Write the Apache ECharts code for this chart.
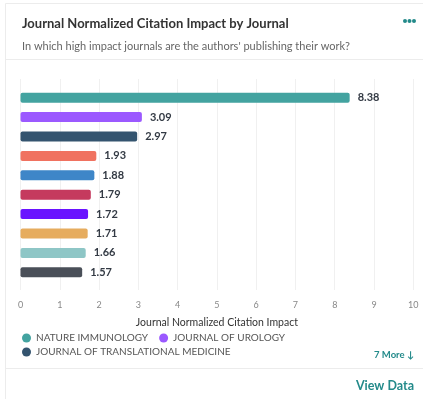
<!DOCTYPE html>
<html>
<head>
<meta charset="utf-8">
<script src="https://cdn.jsdelivr.net/npm/echarts@6/dist/echarts.min.js"></script>
<style>
  html, body { margin: 0; padding: 0; background: #fff; }
  #chart { width: 423px; height: 399px; }
</style>
</head>
<body>
<div id="chart"></div>
<script>
// Journals ranked by Journal Normalized Citation Impact (top 10)
const ranks = ['1', '2', '3', '4', '5', '6', '7', '8', '9', '10'];
const namedJournals = ['NATURE IMMUNOLOGY', 'JOURNAL OF UROLOGY', 'JOURNAL OF TRANSLATIONAL MEDICINE'];
const namedValues = [8.38, 3.09, 2.97];
const namedColors = ['#43a3a0', '#9b59ff', '#34546f'];
// Remaining seven journals (collapsed under "7 More")
const otherValues = [1.93, 1.88, 1.79, 1.72, 1.71, 1.66, 1.57];
const otherColors = ['#f07260', '#3e86c8', '#c53a5e', '#6a14ff', '#e6ac5e', '#8ec6c6', '#4a4f58'];
const xTicks = { min: 0, max: 10, interval: 1 };

const FONT = 'Lato, "Open Sans", sans-serif';
const TEAL = '#238a8a';
const chart = echarts.init(document.getElementById('chart'), null, { renderer: 'canvas' });

const labelStyle = {
  show: true,
  position: 'right',
  distance: 8,
  color: '#333a44',
  fontFamily: FONT,
  fontSize: 11,
  fontWeight: 'bold'
};

const barCommon = {
  type: 'bar',
  xAxisIndex: 1,
  yAxisIndex: 1,
  barWidth: 10,
  barGap: '-100%',
  label: labelStyle,
  itemStyle: { borderRadius: 2 }
};

const series = namedJournals.map((name, i) => Object.assign({}, barCommon, {
  name: name,
  color: namedColors[i],
  data: [[namedValues[i], i]]
}));
series.push(Object.assign({}, barCommon, {
  name: 'other',
  data: otherValues.map((v, i) => ({
    value: [v, i + namedValues.length],
    itemStyle: { color: otherColors[i] }
  }))
}));

const legendCommon = {
  left: 22,
  padding: 0,
  icon: 'circle',
  itemWidth: 9, itemHeight: 9,
  itemGap: 11,
  textStyle: { fontFamily: FONT, fontSize: 10, color: '#555' },
  selectedMode: false
};

chart.setOption({
  animation: false,
  backgroundColor: '#fff',
  textStyle: { fontFamily: FONT },
  title: [
    {
      text: 'Journal Normalized Citation Impact by Journal',
      left: 17, top: 12,
      textStyle: { fontFamily: FONT, fontSize: 13, fontWeight: 'bold', color: '#333' }
    },
    {
      text: "In which high impact journals are the authors' publishing their work?",
      left: 17, top: 36,
      textStyle: { fontFamily: FONT, fontSize: 11, fontWeight: 'normal', color: '#666' }
    }
  ],
  legend: [
    Object.assign({}, legendCommon, { data: namedJournals.slice(0, 2), top: 333 }),
    Object.assign({}, legendCommon, { data: namedJournals.slice(2), top: 347 })
  ],
  grid: [
    { left: 20.5, right: 9.7, top: 79, bottom: 109 },
    { left: 20.5, right: 9.7, top: 88, bottom: 117 }
  ],
  xAxis: [
    {
      type: 'value', gridIndex: 0,
      min: xTicks.min, max: xTicks.max, interval: xTicks.interval,
      name: 'Journal Normalized Citation Impact',
      nameLocation: 'middle', nameGap: 27,
      nameTextStyle: { fontFamily: FONT, fontSize: 10.5, color: '#333' },
      axisLine: { show: false }, axisTick: { show: false },
      axisLabel: { margin: 11, fontFamily: FONT, fontSize: 9, color: '#888' },
      splitLine: { lineStyle: { color: '#f0f0f0' } }
    },
    {
      type: 'value', gridIndex: 1,
      min: xTicks.min, max: xTicks.max, interval: xTicks.interval,
      show: false
    }
  ],
  yAxis: [
    { type: 'category', gridIndex: 0, data: ranks, show: false },
    { type: 'category', gridIndex: 1, data: ranks, inverse: true, show: false }
  ],
  graphic: [
    { type: 'rect', silent: true, z: -10,
      shape: { x: 5.5, y: 3.5, width: 430, height: 410 },
      style: { fill: '#fff', stroke: '#ececec', lineWidth: 1 } },
    { type: 'line', silent: true,
      shape: { x1: 6, y1: 59.5, x2: 423, y2: 59.5 },
      style: { stroke: '#ececec', lineWidth: 1 } },
    { type: 'line', silent: true,
      shape: { x1: 6, y1: 368.5, x2: 423, y2: 368.5 },
      style: { stroke: '#ececec', lineWidth: 1 } },
    { type: 'circle', silent: true, shape: { cx: 405, cy: 21, r: 2 }, style: { fill: TEAL } },
    { type: 'circle', silent: true, shape: { cx: 409.5, cy: 21, r: 2 }, style: { fill: TEAL } },
    { type: 'circle', silent: true, shape: { cx: 414, cy: 21, r: 2 }, style: { fill: TEAL } },
    { type: 'text', right: 9, top: 350,
      style: { text: '7 More ↓', fill: TEAL, fontSize: 9.5, fontWeight: 'bold', fontFamily: FONT } },
    { type: 'text', right: 9, top: 379,
      style: { text: 'View Data', fill: TEAL, fontSize: 12.5, fontWeight: 'bold', fontFamily: FONT } }
  ],
  series: series
});
</script>
</body>
</html>
